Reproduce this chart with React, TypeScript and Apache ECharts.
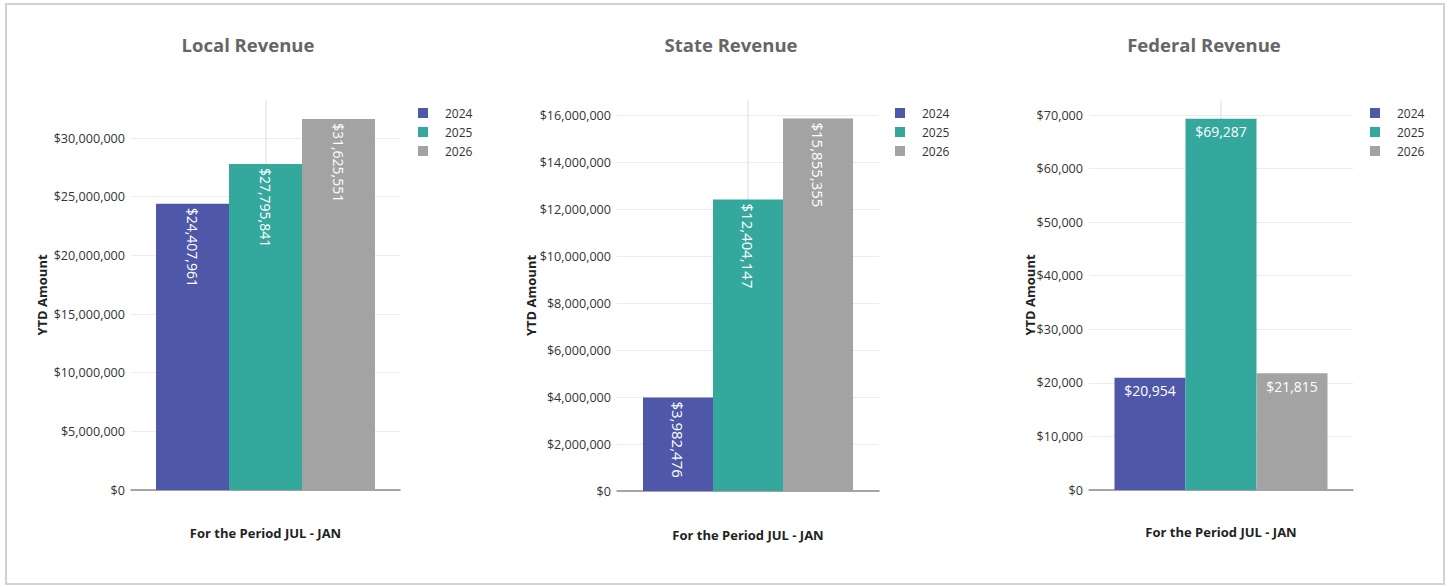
import React, { useEffect, useRef } from "react";
import * as echarts from "echarts";

const years = ["2024", "2025", "2026"];
const category = ["JUL - JAN"];
const localRevenue = [24407961, 27795841, 31625551];
const stateRevenue = [3982476, 12404147, 15855355];
const federalRevenue = [20954, 69287, 21815];
const titles = ["Local Revenue", "State Revenue", "Federal Revenue"];
const yAxisName = "YTD Amount";
const xAxisName = "For the Period JUL - JAN";
const colors = ["#4F58A8", "#35A89D", "#A3A3A3"];

const panels = [
  { data: localRevenue, titleX: 248, left: 131, width: 269, top: 100, height: 390, max: 33240000, interval: 5000000, barWidth: 73, rotate: true, labelSize: 14, legendX: 413, yGap: 83, xGap: 36 },
  { data: stateRevenue, titleX: 731, left: 617, width: 262, top: 100, height: 391, max: 16640000, interval: 2000000, barWidth: 70, rotate: true, labelSize: 15, legendX: 890, yGap: 80, xGap: 37 },
  { data: federalRevenue, titleX: 1204, left: 1089, width: 264, top: 100, height: 390, max: 72800, interval: 10000, barWidth: 71, rotate: false, labelSize: 14, legendX: 1365, yGap: 53, xGap: 35 },
];

const font = "'Open Sans', 'Noto Sans', sans-serif";
const money = (v: number) => "$" + Math.round(v).toLocaleString("en-US");

export default function App() {
  const ref = useRef<HTMLDivElement>(null);
  useEffect(() => {
    if (!ref.current) return;
    const chart = echarts.init(ref.current, null, { renderer: "svg" });
    const grid: any[] = [];
    const xAxis: any[] = [];
    const yAxis: any[] = [];
    const series: any[] = [];
    const legend: any[] = [];
    const graphic: any[] = [];
    panels.forEach((p, i) => {
      grid.push({ left: p.left, top: p.top, width: p.width, height: p.height, containLabel: false });
      xAxis.push({
        type: "category",
        gridIndex: i,
        data: category,
        axisLabel: { show: false },
        axisTick: { show: false },
        axisLine: { show: true, lineStyle: { color: "#8a8a8a", width: 1.5 } },
        splitLine: { show: false },
        name: xAxisName,
        nameLocation: "middle",
        nameGap: p.xGap,
        nameTextStyle: { fontFamily: font, fontSize: 13, fontWeight: "bold", color: "#222" },
      });
      xAxis.push({
        type: "value",
        gridIndex: i,
        min: -1,
        max: 1,
        interval: 1,
        show: true,
        axisLabel: { show: false },
        axisTick: { show: false },
        axisLine: { show: false },
        splitLine: { show: true, showMinLine: false, showMaxLine: false, lineStyle: { color: "#e8e8e8", width: 1.5 } },
      });
      yAxis.push({
        type: "value",
        gridIndex: i,
        min: 0,
        max: p.max,
        interval: p.interval,
        axisLine: { show: false },
        axisTick: { show: false },
        axisLabel: {
          fontFamily: font,
          fontSize: 12.6,
          color: "#333",
          margin: 6,
          showMaxLabel: false,
          formatter: (v: number) => (v % p.interval === 0 ? money(v) : ""),
        },
        splitLine: { show: true, showMaxLine: false, lineStyle: { color: "#ececec", width: 1 } },
        name: yAxisName,
        nameLocation: "middle",
        nameGap: p.yGap,
        nameMoveOverlap: false,
        nameTextStyle: { fontFamily: font, fontSize: 13, fontWeight: "bold", color: "#222" },
      });
      years.forEach((y, k) => {
        series.push({
          type: "bar",
          name: y,
          xAxisIndex: i * 2,
          yAxisIndex: i,
          data: [p.data[k]],
          barWidth: p.barWidth,
          barGap: "0%",
          itemStyle: { color: colors[k] },
          label: p.rotate
            ? {
                show: true,
                position: "insideTop",
                distance: 4,
                rotate: -90,
                align: "left",
                verticalAlign: "middle",
                color: "#fff",
                fontFamily: font,
                fontSize: p.labelSize,
                formatter: (d: any) => money(d.value),
              }
            : {
                show: true,
                position: "insideTop",
                distance: 6,
                color: "#fff",
                fontFamily: font,
                fontSize: p.labelSize,
                formatter: (d: any) => money(d.value),
              },
        });
      });
      legend.push({
        orient: "vertical",
        left: p.legendX,
        top: 102,
        itemWidth: 10,
        itemHeight: 10,
        itemGap: 7,
        icon: "rect",
        selectedMode: false,
        data: years,
        textStyle: { fontFamily: font, fontSize: 12, color: "#333", padding: [0, 0, 0, 12] },
      });
      graphic.push({
        type: "text",
        x: p.titleX,
        y: 44.5,
        style: {
          text: titles[i],
          fontFamily: font,
          fontSize: 18.5,
          fontWeight: "bold",
          fill: "#666",
          align: "center",
          verticalAlign: "middle",
        },
      });
    });
    chart.setOption({
      animation: false,
      backgroundColor: "#fff",
      grid,
      xAxis,
      yAxis,
      series,
      legend,
      graphic,
    });
    return () => chart.dispose();
  }, []);
  return (
    <div style={{ position: "fixed", left: 0, top: 0, width: 1450, height: 587, background: "#fff" }}>
      <div ref={ref} style={{ position: "absolute", left: 0, top: 0, width: 1450, height: 587 }} />
      <div
        style={{
          position: "absolute",
          left: 5,
          top: 3,
          width: 1436,
          height: 578,
          border: "2px solid #d2d2d2",
          pointerEvents: "none",
        }}
      />
    </div>
  );
}
